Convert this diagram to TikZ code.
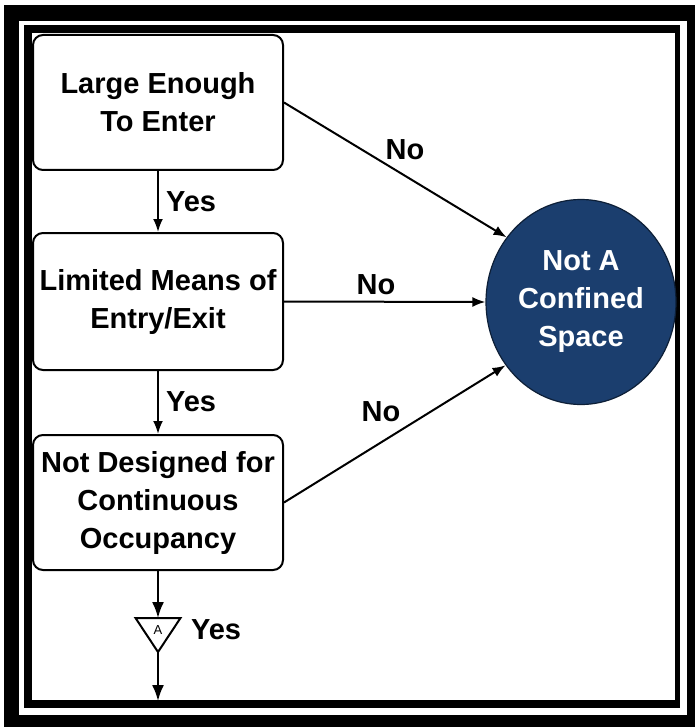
\documentclass[tikz,border=0pt]{standalone}
\usepackage{fontspec}
\setmainfont{Liberation Sans}
\usetikzlibrary{arrows.meta,shapes.geometric}
\definecolor{navy}{RGB}{27,62,110}
\newcommand\dgfont{\fontsize{29}{38}\selectfont\bfseries}
\begin{document}
\begin{tikzpicture}[x=1pt,y=-1pt,
  box/.style={draw, line width=2pt, rounded corners=10pt, minimum width=250pt,
    minimum height=135pt, inner sep=3pt, align=center, font=\dgfont},
  conn/.style={draw, line width=2pt, -{Latex[length=13pt,width=10pt]}},
  bigconn/.style={draw, line width=2pt, -{Latex[length=16pt,width=12pt]}},
  lbl/.style={font=\dgfont, inner sep=0pt}]
\useasboundingbox (0,0) rectangle (695,727);
\fill[white] (0,0) rectangle (695,727);
% frame
\fill[black] (4,5) rectangle (695,727);
\fill[white] (19,21) rectangle (687,715);
\fill[black] (24,25) rectangle (680,708);
\fill[white] (32,33) rectangle (675,700);
% boxes
\node[box, minimum height=135pt] (b1) at (158,102.5) {Large Enough\\To Enter};
\node[box, minimum height=137pt] (b2) at (158,301.5) {Limited Means of\\Entry/Exit};
\node[box, minimum height=135pt] (b3) at (158,502.5) {Not Designed for\\Continuous\\Occupancy};
\node[ellipse, fill=navy, draw=navy!50!black, line width=1.2pt, minimum width=190pt,
  minimum height=205pt, inner sep=0pt, text=white, align=center, font=\dgfont]
  (c) at (581,302) {Not A\\Confined\\Space};
% off-page connector triangle
\coordinate (tA) at (158,618);
\coordinate (tB) at (158,652);
\draw[line width=2pt, line join=miter] (135.5,618) -- (180.5,618) -- (tB) -- cycle;
\node[font=\fontsize{13}{15}\selectfont, inner sep=0pt] (a) at (158,630) {A};
\coordinate (endp) at (158,701);
% connectors
\draw[conn] (b1.south) -- (b2.north);
\draw[conn] (b2.south) -- (b3.north);
\draw[bigconn] (b3.south) -- (tA);
\draw[bigconn] (tB) -- (endp);
\draw[conn] (b1.east) -- (c.139);
\draw[conn] (b2.east) -- (c.west);
\draw[conn] (b3.east) -- (c.220);
% labels
\node[lbl] (y1) at (191,202) {Yes};
\node[lbl] (y2) at (191,402) {Yes};
\node[lbl] (y3) at (216,630) {Yes};
\node[lbl] (n1) at (405,150) {No};
\node[lbl] (n2) at (376,285) {No};
\node[lbl] (n3) at (381,412) {No};
\end{tikzpicture}
\end{document}
